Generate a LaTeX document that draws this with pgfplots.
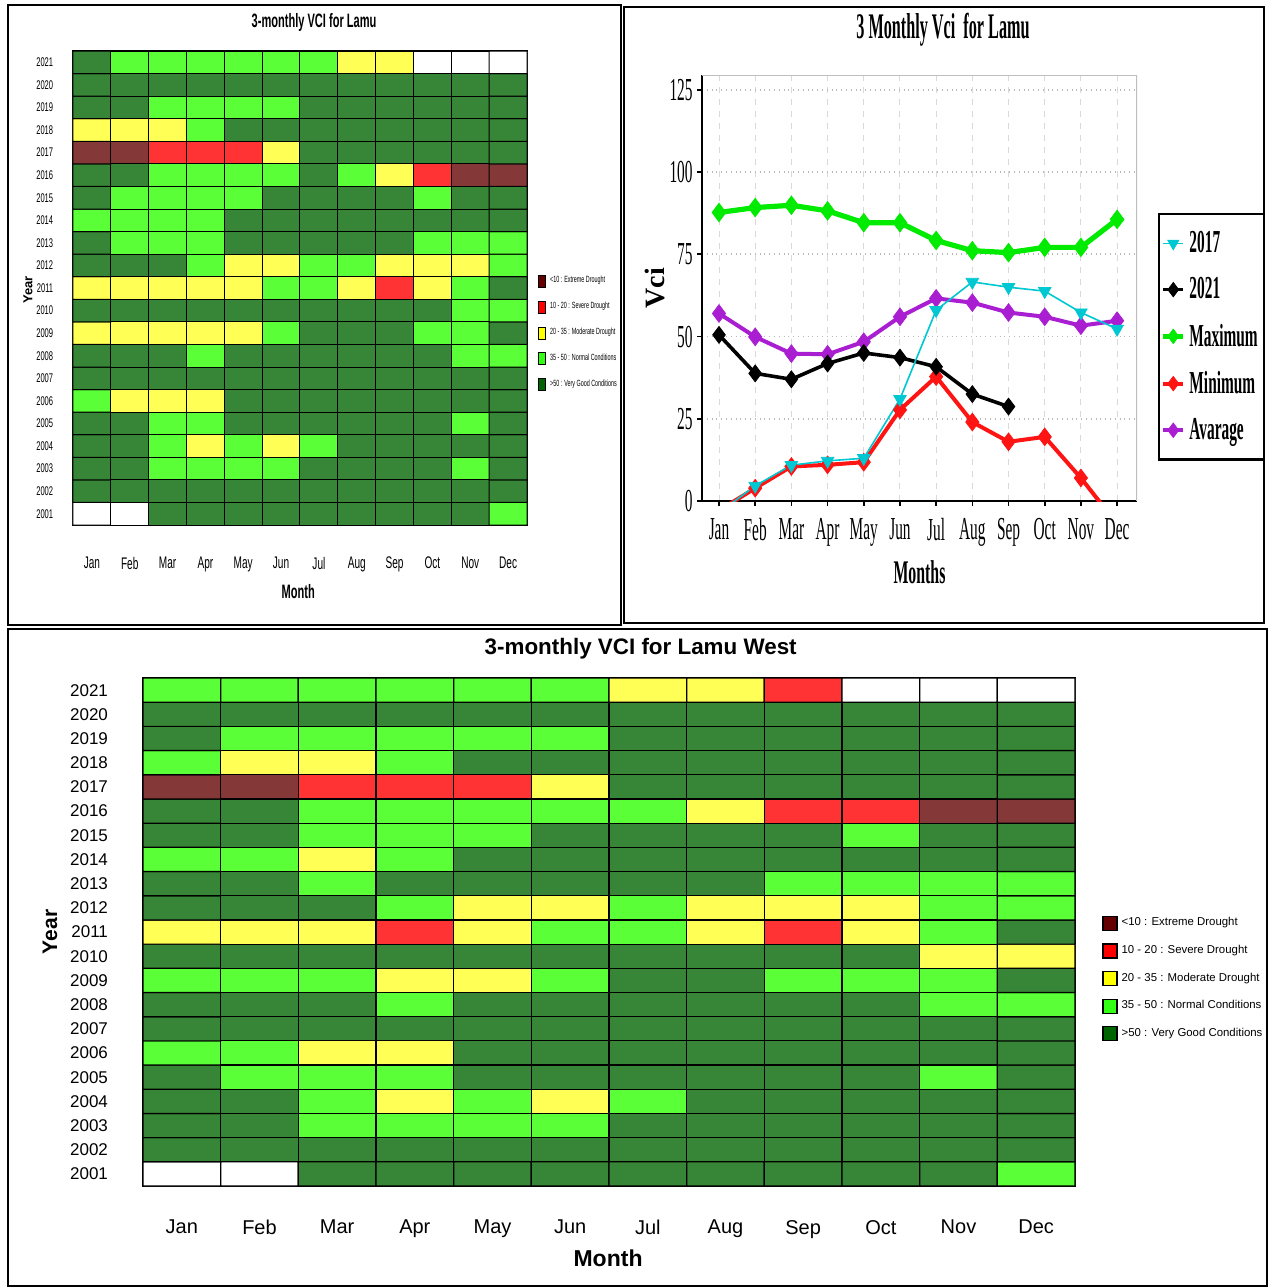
\documentclass[border=0pt]{standalone}
\usepackage{fontspec}
\setmainfont{Liberation Sans}
\newfontfamily\tnr{Liberation Serif}
\usepackage{graphicx}
\usepackage{pgfplots}
\usepackage{pgfplotstable}
\pgfplotsset{compat=1.18}
\newcommand\fs[1]{\fontsize{#1}{#1}\selectfont}
\newcommand\sa[1]{\scalebox{0.6}[1]{#1}}
\newcommand\sq[1]{\scalebox{0.48}[1]{#1}}
\definecolor{lgM}{RGB}{100,0,0}
\definecolor{lgR}{RGB}{255,0,0}
\definecolor{lgY}{RGB}{255,255,0}
\definecolor{lgG}{RGB}{50,255,20}
\definecolor{lgD}{RGB}{0,100,0}
\definecolor{cMax}{RGB}{0,235,0}
\definecolor{cMin}{RGB}{255,20,20}
\definecolor{cAvg}{RGB}{170,30,210}
\definecolor{cSev}{RGB}{0,200,210}
\pgfplotsset{
  vcimap/.style={
    colormap={vci}{rgb255=(132,56,56) rgb255=(255,51,51) rgb255=(255,255,85) rgb255=(90,255,55) rgb255=(55,133,55) rgb255=(255,255,255)},
    colormap access=direct, point meta=explicit,
    enlargelimits=false, xmin=-0.5, xmax=11.5, ymin=2000.5, ymax=2021.5,
    xtick={0,...,11}, ytick={2001,...,2021},
    major tick length=0pt, axis line style={black, line width=0.8pt},
    scale only axis, anchor=north west,
    legend cell align=left,
  },
}
% codes: 0 <10, 1 10-20, 2 20-35, 3 35-50, 4 >50, 5 no data
\pgfplotstableread[row sep=\\]{
x y c\\
0 2001 5\\ 1 2001 5\\ 2 2001 4\\ 3 2001 4\\ 4 2001 4\\ 5 2001 4\\ 6 2001 4\\ 7 2001 4\\ 8 2001 4\\ 9 2001 4\\ 10 2001 4\\ 11 2001 3\\
0 2002 4\\ 1 2002 4\\ 2 2002 4\\ 3 2002 4\\ 4 2002 4\\ 5 2002 4\\ 6 2002 4\\ 7 2002 4\\ 8 2002 4\\ 9 2002 4\\ 10 2002 4\\ 11 2002 4\\
0 2003 4\\ 1 2003 4\\ 2 2003 3\\ 3 2003 3\\ 4 2003 3\\ 5 2003 3\\ 6 2003 4\\ 7 2003 4\\ 8 2003 4\\ 9 2003 4\\ 10 2003 3\\ 11 2003 4\\
0 2004 4\\ 1 2004 4\\ 2 2004 3\\ 3 2004 2\\ 4 2004 3\\ 5 2004 2\\ 6 2004 3\\ 7 2004 4\\ 8 2004 4\\ 9 2004 4\\ 10 2004 4\\ 11 2004 4\\
0 2005 4\\ 1 2005 4\\ 2 2005 3\\ 3 2005 3\\ 4 2005 4\\ 5 2005 4\\ 6 2005 4\\ 7 2005 4\\ 8 2005 4\\ 9 2005 4\\ 10 2005 3\\ 11 2005 4\\
0 2006 3\\ 1 2006 2\\ 2 2006 2\\ 3 2006 2\\ 4 2006 4\\ 5 2006 4\\ 6 2006 4\\ 7 2006 4\\ 8 2006 4\\ 9 2006 4\\ 10 2006 4\\ 11 2006 4\\
0 2007 4\\ 1 2007 4\\ 2 2007 4\\ 3 2007 4\\ 4 2007 4\\ 5 2007 4\\ 6 2007 4\\ 7 2007 4\\ 8 2007 4\\ 9 2007 4\\ 10 2007 4\\ 11 2007 4\\
0 2008 4\\ 1 2008 4\\ 2 2008 4\\ 3 2008 3\\ 4 2008 4\\ 5 2008 4\\ 6 2008 4\\ 7 2008 4\\ 8 2008 4\\ 9 2008 4\\ 10 2008 3\\ 11 2008 3\\
0 2009 2\\ 1 2009 2\\ 2 2009 2\\ 3 2009 2\\ 4 2009 2\\ 5 2009 3\\ 6 2009 4\\ 7 2009 4\\ 8 2009 4\\ 9 2009 3\\ 10 2009 3\\ 11 2009 4\\
0 2010 4\\ 1 2010 4\\ 2 2010 4\\ 3 2010 4\\ 4 2010 4\\ 5 2010 4\\ 6 2010 4\\ 7 2010 4\\ 8 2010 4\\ 9 2010 4\\ 10 2010 3\\ 11 2010 3\\
0 2011 2\\ 1 2011 2\\ 2 2011 2\\ 3 2011 2\\ 4 2011 2\\ 5 2011 3\\ 6 2011 3\\ 7 2011 2\\ 8 2011 1\\ 9 2011 2\\ 10 2011 3\\ 11 2011 4\\
0 2012 4\\ 1 2012 4\\ 2 2012 4\\ 3 2012 3\\ 4 2012 2\\ 5 2012 2\\ 6 2012 3\\ 7 2012 3\\ 8 2012 2\\ 9 2012 2\\ 10 2012 2\\ 11 2012 3\\
0 2013 4\\ 1 2013 3\\ 2 2013 3\\ 3 2013 3\\ 4 2013 4\\ 5 2013 4\\ 6 2013 4\\ 7 2013 4\\ 8 2013 4\\ 9 2013 3\\ 10 2013 3\\ 11 2013 3\\
0 2014 3\\ 1 2014 3\\ 2 2014 3\\ 3 2014 3\\ 4 2014 4\\ 5 2014 4\\ 6 2014 4\\ 7 2014 4\\ 8 2014 4\\ 9 2014 4\\ 10 2014 4\\ 11 2014 4\\
0 2015 4\\ 1 2015 3\\ 2 2015 3\\ 3 2015 3\\ 4 2015 3\\ 5 2015 4\\ 6 2015 4\\ 7 2015 4\\ 8 2015 4\\ 9 2015 3\\ 10 2015 4\\ 11 2015 4\\
0 2016 4\\ 1 2016 4\\ 2 2016 3\\ 3 2016 3\\ 4 2016 3\\ 5 2016 3\\ 6 2016 4\\ 7 2016 3\\ 8 2016 2\\ 9 2016 1\\ 10 2016 0\\ 11 2016 0\\
0 2017 0\\ 1 2017 0\\ 2 2017 1\\ 3 2017 1\\ 4 2017 1\\ 5 2017 2\\ 6 2017 4\\ 7 2017 4\\ 8 2017 4\\ 9 2017 4\\ 10 2017 4\\ 11 2017 4\\
0 2018 2\\ 1 2018 2\\ 2 2018 2\\ 3 2018 3\\ 4 2018 4\\ 5 2018 4\\ 6 2018 4\\ 7 2018 4\\ 8 2018 4\\ 9 2018 4\\ 10 2018 4\\ 11 2018 4\\
0 2019 4\\ 1 2019 4\\ 2 2019 3\\ 3 2019 3\\ 4 2019 3\\ 5 2019 3\\ 6 2019 4\\ 7 2019 4\\ 8 2019 4\\ 9 2019 4\\ 10 2019 4\\ 11 2019 4\\
0 2020 4\\ 1 2020 4\\ 2 2020 4\\ 3 2020 4\\ 4 2020 4\\ 5 2020 4\\ 6 2020 4\\ 7 2020 4\\ 8 2020 4\\ 9 2020 4\\ 10 2020 4\\ 11 2020 4\\
0 2021 4\\ 1 2021 3\\ 2 2021 3\\ 3 2021 3\\ 4 2021 3\\ 5 2021 3\\ 6 2021 3\\ 7 2021 2\\ 8 2021 2\\ 9 2021 5\\ 10 2021 5\\ 11 2021 5\\
}\lamu
\pgfplotstableread[row sep=\\]{
x y c\\
0 2001 5\\ 1 2001 5\\ 2 2001 4\\ 3 2001 4\\ 4 2001 4\\ 5 2001 4\\ 6 2001 4\\ 7 2001 4\\ 8 2001 4\\ 9 2001 4\\ 10 2001 4\\ 11 2001 3\\
0 2002 4\\ 1 2002 4\\ 2 2002 4\\ 3 2002 4\\ 4 2002 4\\ 5 2002 4\\ 6 2002 4\\ 7 2002 4\\ 8 2002 4\\ 9 2002 4\\ 10 2002 4\\ 11 2002 4\\
0 2003 4\\ 1 2003 4\\ 2 2003 3\\ 3 2003 3\\ 4 2003 3\\ 5 2003 3\\ 6 2003 4\\ 7 2003 4\\ 8 2003 4\\ 9 2003 4\\ 10 2003 4\\ 11 2003 4\\
0 2004 4\\ 1 2004 4\\ 2 2004 3\\ 3 2004 2\\ 4 2004 3\\ 5 2004 2\\ 6 2004 3\\ 7 2004 4\\ 8 2004 4\\ 9 2004 4\\ 10 2004 4\\ 11 2004 4\\
0 2005 4\\ 1 2005 3\\ 2 2005 3\\ 3 2005 3\\ 4 2005 4\\ 5 2005 4\\ 6 2005 4\\ 7 2005 4\\ 8 2005 4\\ 9 2005 4\\ 10 2005 3\\ 11 2005 4\\
0 2006 3\\ 1 2006 3\\ 2 2006 2\\ 3 2006 2\\ 4 2006 4\\ 5 2006 4\\ 6 2006 4\\ 7 2006 4\\ 8 2006 4\\ 9 2006 4\\ 10 2006 4\\ 11 2006 4\\
0 2007 4\\ 1 2007 4\\ 2 2007 4\\ 3 2007 4\\ 4 2007 4\\ 5 2007 4\\ 6 2007 4\\ 7 2007 4\\ 8 2007 4\\ 9 2007 4\\ 10 2007 4\\ 11 2007 4\\
0 2008 4\\ 1 2008 4\\ 2 2008 4\\ 3 2008 3\\ 4 2008 4\\ 5 2008 4\\ 6 2008 4\\ 7 2008 4\\ 8 2008 4\\ 9 2008 4\\ 10 2008 3\\ 11 2008 3\\
0 2009 3\\ 1 2009 3\\ 2 2009 3\\ 3 2009 2\\ 4 2009 2\\ 5 2009 3\\ 6 2009 4\\ 7 2009 4\\ 8 2009 3\\ 9 2009 3\\ 10 2009 3\\ 11 2009 4\\
0 2010 4\\ 1 2010 4\\ 2 2010 4\\ 3 2010 4\\ 4 2010 4\\ 5 2010 4\\ 6 2010 4\\ 7 2010 4\\ 8 2010 4\\ 9 2010 4\\ 10 2010 2\\ 11 2010 2\\
0 2011 2\\ 1 2011 2\\ 2 2011 2\\ 3 2011 1\\ 4 2011 2\\ 5 2011 3\\ 6 2011 3\\ 7 2011 2\\ 8 2011 1\\ 9 2011 2\\ 10 2011 3\\ 11 2011 4\\
0 2012 4\\ 1 2012 4\\ 2 2012 4\\ 3 2012 3\\ 4 2012 2\\ 5 2012 2\\ 6 2012 3\\ 7 2012 2\\ 8 2012 2\\ 9 2012 2\\ 10 2012 3\\ 11 2012 3\\
0 2013 4\\ 1 2013 4\\ 2 2013 3\\ 3 2013 4\\ 4 2013 4\\ 5 2013 4\\ 6 2013 4\\ 7 2013 4\\ 8 2013 3\\ 9 2013 3\\ 10 2013 3\\ 11 2013 3\\
0 2014 3\\ 1 2014 3\\ 2 2014 2\\ 3 2014 3\\ 4 2014 4\\ 5 2014 4\\ 6 2014 4\\ 7 2014 4\\ 8 2014 4\\ 9 2014 4\\ 10 2014 4\\ 11 2014 4\\
0 2015 4\\ 1 2015 4\\ 2 2015 3\\ 3 2015 3\\ 4 2015 3\\ 5 2015 4\\ 6 2015 4\\ 7 2015 4\\ 8 2015 4\\ 9 2015 3\\ 10 2015 4\\ 11 2015 4\\
0 2016 4\\ 1 2016 4\\ 2 2016 3\\ 3 2016 3\\ 4 2016 3\\ 5 2016 3\\ 6 2016 3\\ 7 2016 2\\ 8 2016 1\\ 9 2016 1\\ 10 2016 0\\ 11 2016 0\\
0 2017 0\\ 1 2017 0\\ 2 2017 1\\ 3 2017 1\\ 4 2017 1\\ 5 2017 2\\ 6 2017 4\\ 7 2017 4\\ 8 2017 4\\ 9 2017 4\\ 10 2017 4\\ 11 2017 4\\
0 2018 3\\ 1 2018 2\\ 2 2018 2\\ 3 2018 3\\ 4 2018 4\\ 5 2018 4\\ 6 2018 4\\ 7 2018 4\\ 8 2018 4\\ 9 2018 4\\ 10 2018 4\\ 11 2018 4\\
0 2019 4\\ 1 2019 3\\ 2 2019 3\\ 3 2019 3\\ 4 2019 3\\ 5 2019 3\\ 6 2019 4\\ 7 2019 4\\ 8 2019 4\\ 9 2019 4\\ 10 2019 4\\ 11 2019 4\\
0 2020 4\\ 1 2020 4\\ 2 2020 4\\ 3 2020 4\\ 4 2020 4\\ 5 2020 4\\ 6 2020 4\\ 7 2020 4\\ 8 2020 4\\ 9 2020 4\\ 10 2020 4\\ 11 2020 4\\
0 2021 3\\ 1 2021 3\\ 2 2021 3\\ 3 2021 3\\ 4 2021 3\\ 5 2021 3\\ 6 2021 2\\ 7 2021 2\\ 8 2021 1\\ 9 2021 5\\ 10 2021 5\\ 11 2021 5\\
}\lamuwest
\begin{document}
\begin{tikzpicture}
\useasboundingbox (0pt,0pt) rectangle (634.5pt,-643.5pt);
\fill[white] (0pt,0pt) rectangle (634.5pt,-643.5pt);
\begin{scope}[x=0.5pt,y=-0.5pt]
\draw[line width=0.6pt] (8,5) rectangle (621,625);
\draw[line width=1.3pt] (624,7) rectangle (1264,623);
\draw[line width=0.8pt] (8,629) rectangle (1267,1286);
\end{scope}

% ---------- top-left heat map ----------
\begin{axis}[vcimap,
  at={(36.5pt,-25.5pt)}, width=227pt, height=237pt,
  xticklabels={\sa{Jan},\sa{Feb},\sa{Mar},\sa{Apr},\sa{May},\sa{Jun},\sa{Jul},\sa{Aug},\sa{Sep},\sa{Oct},\sa{Nov},\sa{Dec}},
  yticklabels={\sa{2001},\sa{2002},\sa{2003},\sa{2004},\sa{2005},\sa{2006},\sa{2007},\sa{2008},\sa{2009},\sa{2010},\sa{2011},\sa{2012},\sa{2013},\sa{2014},\sa{2015},\sa{2016},\sa{2017},\sa{2018},\sa{2019},\sa{2020},\sa{2021}},
  xticklabel style={font=\fs{8.4}, yshift=-12.5pt},
  yticklabel style={font=\fs{6.3}, xshift=-6.4pt},
  title={\scalebox{0.57}[1]{3-monthly VCI for Lamu}},
  title style={at={(axis description cs:0.531,1.065)}, anchor=center, yshift=-7pt, font=\bfseries\fs{9.7}},
  xlabel={\scalebox{0.57}[1]{Month}},
  xlabel style={at={(axis description cs:0.496,-0.141)}, anchor=center, font=\bfseries\fs{9.7}},
  ylabel={Year},
  ylabel style={at={(axis description cs:-0.099,0.496)}, anchor=center, font=\bfseries\fs{6.5}},
  legend image code/.code={\draw[#1] (0pt,-3pt) rectangle (3.5pt,3pt);},
  legend style={at={(axis description cs:1.024,0.534)}, anchor=north west, draw=none, fill=none,
    font=\fs{4.5}, inner sep=0pt, row sep=4.2pt},
]
\addplot[matrix plot*, mesh/cols=12, shader=flat corner, draw=black, line width=0.5pt, forget plot]
  table[x=x, y=y, meta=c] {\lamu};
\addlegendimage{fill=lgM, draw=black, line width=0.4pt}\addlegendentry{\sa{<10 : Extreme Drought}}
\addlegendimage{fill=lgR, draw=black, line width=0.4pt}\addlegendentry{\sa{10 - 20 : Severe Drought}}
\addlegendimage{fill=lgY, draw=black, line width=0.4pt}\addlegendentry{\sa{20 - 35 : Moderate Drought}}
\addlegendimage{fill=lgG, draw=black, line width=0.4pt}\addlegendentry{\sa{35 - 50 : Normal Conditions}}
\addlegendimage{fill=lgD, draw=black, line width=0.4pt}\addlegendentry{\sa{>50 : Very Good Conditions}}
\end{axis}

% ---------- top-right line chart ----------
\begin{axis}[
  at={(351pt,-37.5pt)}, anchor=north west, width=217.5pt, height=213pt, scale only axis,
  xmin=-0.47, xmax=11.55, ymin=0, ymax=129.5,
  axis lines*=left, axis line style={-, black, line width=1.1pt},
  xtick={0,...,11},
  xticklabels={\sq{Jan},\sq{Feb},\sq{Mar},\sq{Apr},\sq{May},\sq{Jun},\sq{Jul},\sq{Aug},\sq{Sep},\sq{Oct},\sq{Nov},\sq{Dec}},
  ytick={0,25,50,75,100,125},
  yticklabels={\sq{0},\sq{25},\sq{50},\sq{75},\sq{100},\sq{125}},
  tick align=outside, major tick length=2.5pt, tick style={black, line width=0.8pt},
  xticklabel style={font=\tnr\fs{16}, inner sep=0pt, yshift=-6pt},
  yticklabel style={font=\tnr\fs{16}, inner sep=0pt, xshift=-2pt},
  xmajorgrids, ymajorgrids,
  x grid style={dashed, gray!30, line width=0.5pt},
  y grid style={dotted, gray!55, line width=0.8pt},
  title={\scalebox{0.45}[1]{3 Monthly Vci\ \ for Lamu}},
  title style={at={(axis description cs:0.554,1.110)}, anchor=center, yshift=-7pt, font=\tnr\bfseries\fs{18}},
  xlabel={\sq{Months}},
  xlabel style={at={(axis description cs:0.5,-0.167)}, anchor=center, font=\tnr\bfseries\fs{16.5}},
  ylabel={Vci},
  ylabel style={at={(axis description cs:-0.108,0.5)}, anchor=center, font=\tnr\bfseries\fs{14}},
  legend image code/.code={\draw[mark repeat=2,mark phase=2,#1] plot coordinates {(0pt,0pt) (5pt,0pt) (10pt,0pt)};},
  legend style={at={(axis description cs:1.048,0.676)}, anchor=north west, draw=black, line width=1.2pt,
    font=\tnr\bfseries\fs{16}, inner xsep=1pt, inner ysep=6.5pt, row sep=7pt,
    /tikz/every even column/.append style={column sep=0pt}},
  legend cell align=left,
]
\draw[gray!50, line width=0.8pt] (rel axis cs:0,1) -- (rel axis cs:1,1) -- (rel axis cs:1,0);
\addlegendimage{cSev, line width=0.8pt, mark=triangle*, mark size=3.2pt, mark options={solid, rotate=180, fill=cSev, line width=0.4pt}}
\addlegendentry{\sq{2017}}
\addlegendimage{black, line width=1.6pt, mark=diamond*, mark size=3.6pt, mark options={solid, line width=0.4pt}}
\addlegendentry{\sq{2021}}
\addlegendimage{cMax, line width=2.2pt, mark=diamond*, mark size=3.6pt, mark options={solid, line width=0.4pt}}
\addlegendentry{\sq{Maximum}}
\addlegendimage{cMin, line width=2pt, mark=diamond*, mark size=3.6pt, mark options={solid, line width=0.4pt}}
\addlegendentry{\sq{Minimum}}
\addlegendimage{cAvg, line width=2pt, mark=diamond*, mark size=3.6pt, mark options={solid, line width=0.4pt}}
\addlegendentry{\sq{Avarage}}
% Maximum
\addplot[cMax, line width=2.6pt, mark=diamond*, mark size=4.6pt, mark options={solid, line width=0.4pt}, forget plot]
  coordinates {(0,87.7) (1,89.2) (2,89.9) (3,88.2) (4,84.6) (5,84.6) (6,79.2) (7,76.1) (8,75.5) (9,77.1) (10,77.1) (11,85.6)};
% Minimum
\addplot[cMin, line width=2pt, mark=diamond*, mark size=4.4pt, mark options={solid, line width=0.4pt}, forget plot]
  coordinates {(0,-2.9) (1,3.9) (2,10.5) (3,11.0) (4,11.8) (5,27.7) (6,37.8) (7,24.0) (8,18.0) (9,19.5) (10,7.0) (11,-7.0)};
% Average
\addplot[cAvg, line width=2pt, mark=diamond*, mark size=4.4pt, mark options={solid, line width=0.4pt}, forget plot]
  coordinates {(0,57.0) (1,49.9) (2,44.8) (3,44.6) (4,48.4) (5,56.0) (6,61.6) (7,60.3) (8,57.3) (9,56.0) (10,53.3) (11,54.8)};
% 2021
\addplot[black, line width=1.8pt, mark=diamond*, mark size=4.2pt, mark options={solid, line width=0.4pt}, forget plot]
  coordinates {(0,50.5) (1,38.8) (2,37.0) (3,41.8) (4,45.0) (5,43.6) (6,40.8) (7,32.5) (8,28.7)};
% 2017
\addplot[cSev, line width=0.8pt, mark=triangle*, mark size=3.6pt, mark options={solid, rotate=180, fill=cSev, line width=0.4pt}, forget plot]
  coordinates {(0,-3.5) (1,4.6) (2,10.9) (3,12.2) (4,13.0) (5,31.0) (6,58.0) (7,66.6) (8,65.0) (9,63.8) (10,57.3) (11,52.3)};
\end{axis}

% ---------- bottom heat map ----------
\begin{axis}[vcimap,
  at={(71.5pt,-339pt)}, width=466pt, height=254pt,
  xticklabels={Jan,Feb,Mar,Apr,May,Jun,Jul,Aug,Sep,Oct,Nov,Dec},
  yticklabels={2001,2002,2003,2004,2005,2006,2007,2008,2009,2010,2011,2012,2013,2014,2015,2016,2017,2018,2019,2020,2021},
  xticklabel style={font=\fs{10}, yshift=-13.5pt},
  yticklabel style={font=\fs{8.5}, xshift=-14pt},
  title={3-monthly VCI for Lamu West},
  title style={at={(axis description cs:0.534,1.061)}, anchor=center, yshift=-7pt, font=\bfseries\fs{11.2}},
  xlabel={Month},
  xlabel style={at={(axis description cs:0.499,-0.142)}, anchor=center, font=\bfseries\fs{11.5}},
  ylabel={Year},
  ylabel style={at={(axis description cs:-0.0998,0.5)}, anchor=center, font=\bfseries\fs{10.5}},
  legend image code/.code={\draw[#1] (0pt,-3.5pt) rectangle (7pt,3.5pt);},
  legend style={at={(axis description cs:1.029,0.537)}, anchor=north west, draw=none, fill=none,
    font=\fs{5.7}, inner sep=0pt, row sep=4.2pt,
    /tikz/every even column/.append style={column sep=2pt}},
]
\addplot[matrix plot*, mesh/cols=12, shader=flat corner, draw=black, line width=0.6pt, forget plot]
  table[x=x, y=y, meta=c] {\lamuwest};
\addlegendimage{fill=lgM, draw=black, line width=0.6pt}\addlegendentry{<10 : Extreme Drought}
\addlegendimage{fill=lgR, draw=black, line width=0.6pt}\addlegendentry{10 - 20 : Severe Drought}
\addlegendimage{fill=lgY, draw=black, line width=0.6pt}\addlegendentry{20 - 35 : Moderate Drought}
\addlegendimage{fill=lgG, draw=black, line width=0.6pt}\addlegendentry{35 - 50 : Normal Conditions}
\addlegendimage{fill=lgD, draw=black, line width=0.6pt}\addlegendentry{>50 : Very Good Conditions}
\end{axis}
\end{tikzpicture}
\end{document}
